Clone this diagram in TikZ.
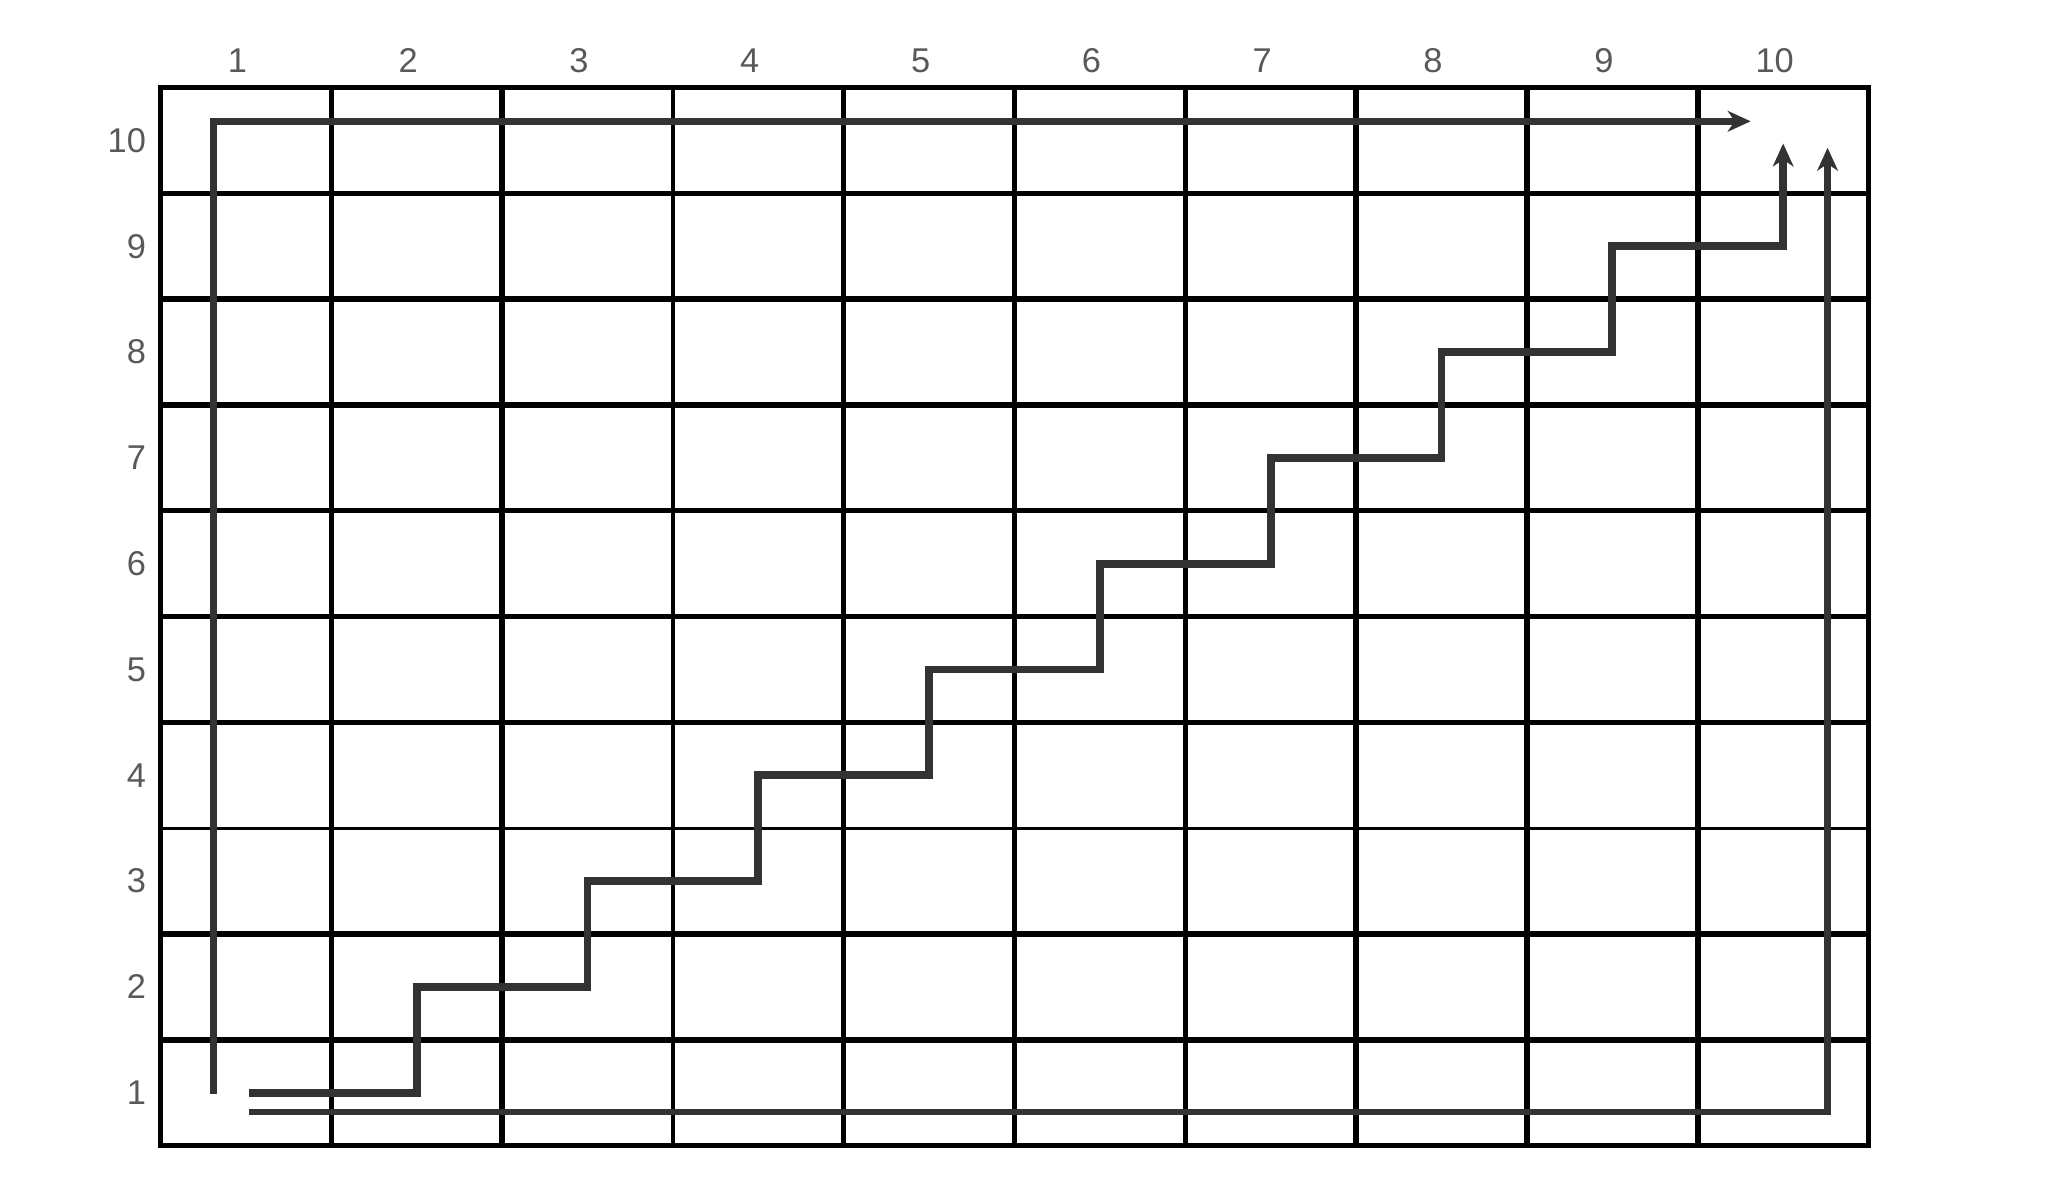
\documentclass[tikz,border=0pt]{standalone}
\usepackage{fontspec}
\setmainfont{Liberation Sans}
\usetikzlibrary{arrows.meta, positioning, calc}
\tikzset{
	gridline/.style = {draw=black, line width=1.2pt},
	thinline/.style = {draw=black, line width=0.7pt},
	label/.style = {text=black!65, font=\fontsize{7.5}{9}\selectfont, inner sep=0pt},
	route/.style = {draw=black!80, line width=1.4pt, -{Stealth[length=5pt, width=4.5pt, inset=1.5pt]}},
	stair/.style = {route, line width=1.7pt},
}

\begin{document}
\begin{tikzpicture}
	\useasboundingbox (0,0) rectangle (15.68,9.02);
	\begin{scope}[shift={(1.23,0.24)}, x=1.309cm, y=0.811cm]
		
		% Grid
		\foreach \i in {1,2,4,5,6,7,8,9}
			\draw[gridline] (\i,0) -- (\i,10);
		\foreach \j in {1,2,4,5,6,7,8,9}
			\draw[gridline] (0,\j) -- (10,\j);
		\draw[thinline] (3,0) -- (3,10);
		\draw[thinline, line width=0.6pt] (0,3) -- (10,3);
		\draw[gridline] (0,0) rectangle (10,10);
		
		% Labels
		\foreach \i in {1,...,10} {
			\node[label] (col\i) at (\i-0.55,10.25) {\i};
			\node[label, anchor=east] (row\i) at (-0.08,\i-0.5) {\i};
		}
		
		% Route ends
		\coordinate (upStart) at (0.31,0.49);
		\coordinate (upEnd) at (9.31,9.68);
		\coordinate (stairStart) at (0.52,0.5);
		\coordinate (stairEnd) at (9.5,9.47);
		\coordinate (lowStart) at (0.52,0.32);
		\coordinate (lowEnd) at (9.76,9.43);
		
		% Routes
		\draw[route] (upStart) |- (upEnd);
		\draw[stair] (stairStart) foreach \i in {1,...,8} { -| (\i+0.5,\i+0.5) } -| (stairEnd);
		\draw[route] (lowStart) -| (lowEnd);
		
	\end{scope}
\end{tikzpicture}
\end{document}
